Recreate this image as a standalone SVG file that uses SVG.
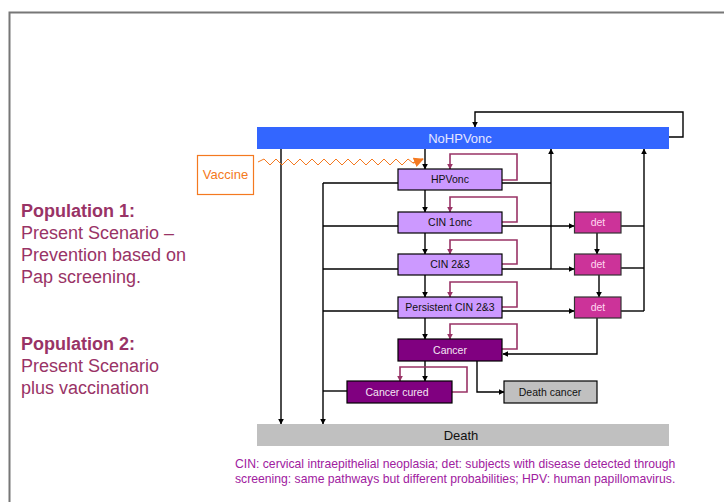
<svg xmlns="http://www.w3.org/2000/svg" width="724" height="502" viewBox="0 0 724 502">
<defs>
<marker id="ab" viewBox="0 0 10 10" refX="9" refY="5" markerWidth="6" markerHeight="6" orient="auto" markerUnits="userSpaceOnUse"><path d="M0,0 L10,5 L0,10 z" fill="#000"/></marker>
<marker id="am" viewBox="0 0 10 10" refX="9" refY="5" markerWidth="6" markerHeight="6" orient="auto" markerUnits="userSpaceOnUse"><path d="M0,0 L10,5 L0,10 z" fill="#993366"/></marker>
<marker id="ao" viewBox="0 0 10 10" refX="9" refY="5" markerWidth="10" markerHeight="10" orient="auto" markerUnits="userSpaceOnUse"><path d="M0,0 L10,5 L0,10 z" fill="#f47920"/></marker>
</defs>
<style>
text{font-family:"Liberation Sans",Arial,sans-serif}
.c{fill:none;stroke:#000;stroke-width:1.4}
.ca{fill:none;stroke:#000;stroke-width:1.4;marker-end:url(#ab)}
.m{fill:none;stroke:#993366;stroke-width:1.6;marker-end:url(#am)}
.cin rect{fill:#cc99ff;stroke:#000;stroke-width:1.2}
.cin text{font-size:10.5px;fill:#111;text-anchor:middle}
.det rect{fill:#cc3399;stroke:#333;stroke-width:1.2}
.det text{font-size:10.5px;fill:#ffd6f0;text-anchor:middle}
.can rect{fill:#800080;stroke:#000;stroke-width:1.2}
.can text{font-size:10.5px;fill:#f4e6f4;text-anchor:middle}
.side{font-size:18px;fill:#993366}
.note{font-size:12.2px;fill:#a020a0}
</style>
<rect width="724" height="502" fill="#fff"/>
<path d="M9.5,502 V12.5 H724" fill="none" stroke="#777" stroke-width="2"/>

<g id="side-text">
<text class="side" x="21" y="217" font-weight="bold">Population 1:</text>
<text class="side" x="21" y="239">Present Scenario –</text>
<text class="side" x="21" y="261">Prevention based on</text>
<text class="side" x="21" y="283">Pap screening.</text>
<text class="side" x="21" y="350" font-weight="bold">Population 2:</text>
<text class="side" x="21" y="372">Present Scenario</text>
<text class="side" x="21" y="394">plus vaccination</text>
</g>

<g id="connectors">
<path class="ca" d="M669,137 H683 V112 H475 V127"/>
<path class="ca" d="M425,149 V169"/>
<path class="ca" d="M425,190 V212"/>
<path class="ca" d="M425,233 V254"/>
<path class="ca" d="M425,275 V297"/>
<path class="ca" d="M425,318 V339"/>
<path class="ca" d="M425,361 V381"/>
<path class="ca" d="M281,149 V424"/>
<path class="ca" d="M323,183 V424"/>
<path class="c" d="M398,183 H323"/>
<path class="c" d="M398,226 H323"/>
<path class="c" d="M398,269 H323"/>
<path class="c" d="M398,311 H323"/>
<path class="c" d="M347,391 H323"/>
<path class="ca" d="M551,269 V149"/>
<path class="c" d="M502,183 H551"/>
<path class="ca" d="M502,226 H574"/>
<path class="c" d="M502,269 H551"/>
<path class="ca" d="M551,269 H574"/>
<path class="ca" d="M502,311 H574" stroke-width="2"/>
<path class="ca" d="M597,233 V254"/>
<path class="ca" d="M599,275 V297"/>
<path class="ca" d="M597,318 V354 H503"/>
<path class="ca" d="M644,311 V149"/>
<path class="c" d="M621,226 H644"/>
<path class="c" d="M621,268 H644"/>
<path class="c" d="M621,311 H644"/>
<path class="ca" d="M477,361 V392 H504"/>
<path class="m" d="M502,180 H517 V154 H450 V169"/>
<path class="m" d="M502,222 H517 V197 H450 V212"/>
<path class="m" d="M502,264 H517 V240 H450 V254"/>
<path class="m" d="M502,307 H517 V282 H450 V297"/>
<path class="m" d="M502,349 H517 V324 H450 V339"/>
<path class="m" d="M452,392 H467 V367 H400 V381"/>
<polyline points="258,162 264,159 270,165 276,159 282,165 288,159 294,165 300,159 306,165 312,159 318,165 324,159 330,165 336,159 342,165 348,159 354,165 360,159 366,165 372,159 378,165 384,159 390,165 396,159 402,165 408,159 413,163" fill="none" stroke="#f47920" stroke-width="1"/>
<path d="M413,163 L423,159" fill="none" stroke="#f47920" stroke-width="1.5" marker-end="url(#ao)"/>
</g>

<g id="nohpvonc">
<rect x="257" y="127" width="412" height="22" fill="#3366ff"/>
<text x="460" y="142.5" font-size="13" fill="#e6e6ff" text-anchor="middle">NoHPVonc</text>
</g>
<g id="vaccine">
<rect x="197.5" y="155.5" width="56" height="39" fill="#fff" stroke="#f47920" stroke-width="1.2"/>
<text x="225.5" y="179" font-size="13" fill="#f47920" text-anchor="middle">Vaccine</text>
</g>
<g id="hpvonc" class="cin"><rect x="398" y="169" width="104" height="21"/><text x="450" y="183">HPVonc</text></g>
<g id="cin1" class="cin"><rect x="398" y="212" width="104" height="21"/><text x="450" y="226">CIN  1onc</text></g>
<g id="cin23" class="cin"><rect x="398" y="254" width="104" height="21"/><text x="450" y="268">CIN  2&amp;3</text></g>
<g id="pcin23" class="cin"><rect x="398" y="297" width="104" height="21"/><text x="450" y="311">Persistent CIN  2&amp;3</text></g>
<g id="det1" class="det"><rect x="574.5" y="212" width="46.5" height="21"/><text x="598" y="226">det</text></g>
<g id="det2" class="det"><rect x="574.5" y="254" width="46.5" height="21"/><text x="598" y="268">det</text></g>
<g id="det3" class="det"><rect x="574.5" y="297" width="46.5" height="21"/><text x="598" y="311">det</text></g>
<g id="cancer" class="can"><rect x="398" y="339" width="104" height="22"/><text x="450" y="354">Cancer</text></g>
<g id="cancer-cured" class="can"><rect x="347" y="381" width="105" height="22"/><text x="397" y="396">Cancer cured</text></g>
<g id="death-cancer"><rect x="504" y="381" width="93" height="22" fill="#c0c0c0" stroke="#000" stroke-width="1.2"/><text x="550" y="396" font-size="10.5" fill="#111" text-anchor="middle">Death cancer</text></g>
<g id="death"><rect x="257" y="424" width="412" height="22" fill="#c0c0c0"/><text x="461" y="440" font-size="13" fill="#111" text-anchor="middle">Death</text></g>

<g id="footnote">
<text class="note" x="235" y="468">CIN: cervical intraepithelial neoplasia; det: subjects with disease detected through</text>
<text class="note" x="235" y="483">screening: same pathways but different probabilities; HPV: human papillomavirus.</text>
</g>
</svg>
